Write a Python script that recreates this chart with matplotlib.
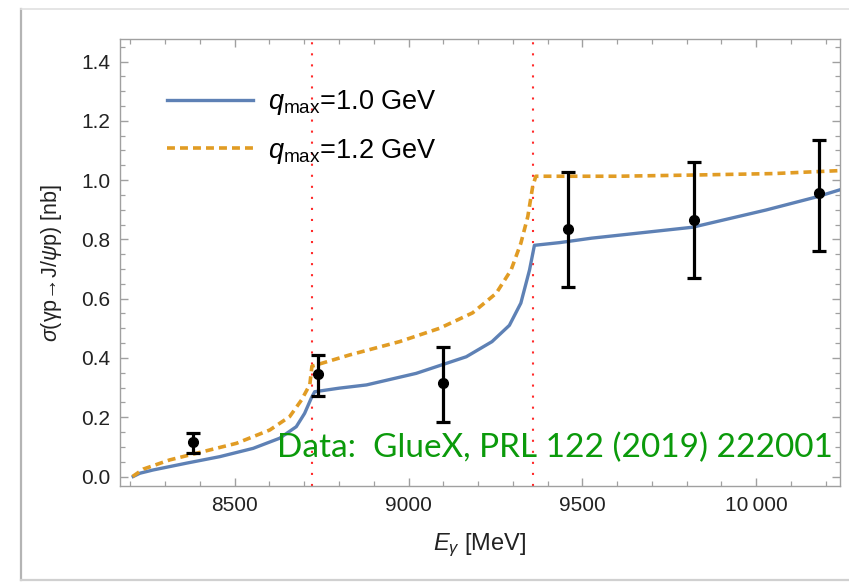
import numpy as np
import matplotlib as mpl
mpl.use('Agg')
import matplotlib.pyplot as plt
from matplotlib.ticker import MultipleLocator, FuncFormatter
from matplotlib.lines import Line2D

plt.rcParams['font.family'] = ['Liberation Sans', 'DejaVu Sans']
plt.rcParams['mathtext.fontset'] = 'custom'
plt.rcParams['mathtext.rm'] = 'Liberation Sans'
plt.rcParams['mathtext.it'] = 'Liberation Sans:italic'

# model curves
E_q10 = [8208, 8227, 8265, 8361, 8457, 8553, 8629, 8677, 8701, 8720, 8730, 8800, 8879,
         9022, 9166, 9240, 9290, 9323, 9348, 9362, 9434, 9526, 9817, 10028, 10176, 10240]
sig_q10 = [0.0, 0.011, 0.022, 0.045, 0.067, 0.095, 0.129, 0.168, 0.213, 0.264, 0.286, 0.298, 0.309,
           0.348, 0.404, 0.455, 0.51, 0.585, 0.697, 0.78, 0.789, 0.804, 0.841, 0.899, 0.944, 0.967]

E_q12 = [8206, 8237, 8313, 8409, 8505, 8601, 8658, 8692, 8716, 8722, 8830, 8974, 9089, 9184,
         9252, 9295, 9323, 9343, 9357, 9366, 9600, 9817, 10050, 10240]
sig_q12 = [0.0, 0.025, 0.056, 0.084, 0.112, 0.157, 0.202, 0.258, 0.31, 0.372, 0.41, 0.455, 0.50, 0.552,
           0.618, 0.697, 0.787, 0.877, 0.978, 1.013, 1.013, 1.017, 1.022, 1.032]

# GlueX data
E_data = [8380, 8740, 9100, 9460, 9820, 10180]
sig_data = [0.118, 0.346, 0.315, 0.836, 0.866, 0.955]
sig_lo = [0.081, 0.273, 0.185, 0.64, 0.67, 0.761]
sig_hi = [0.148, 0.41, 0.438, 1.028, 1.062, 1.135]

thresholds = [8721, 9358]

blue = '#5e81b5'
orange = '#e19c24'

fig = plt.figure(figsize=(8.49, 5.83), dpi=100)
ax = fig.add_axes([120/849, 1-486/583, 720/849, 447/583])

# slide-like frame
fig.add_artist(Line2D([21/849, 21/849], [1-580/583, 1-9/583], color='#b4b4b4', lw=1.6))
fig.add_artist(Line2D([21/849, 1], [1-9/583, 1-9/583], color='#e0e0e0', lw=1.2))
fig.add_artist(Line2D([21/849, 1], [1-580/583, 1-580/583], color='#d0d0d0', lw=1.6))

for t in thresholds:
    ax.axvline(t, color='#ff2a2a', lw=1.5, linestyle=(0, (1, 4.3)), zorder=1)

ax.plot(E_q10, sig_q10, color=blue, lw=2.4, label=r'$q_{\mathrm{max}}$=1.0 GeV', zorder=3)
ax.plot(E_q12, sig_q12, color=orange, lw=2.6, linestyle=(0, (2.2, 1.4)),
        label=r'$q_{\mathrm{max}}$=1.2 GeV', zorder=3)

yerr = [np.array(sig_data) - np.array(sig_lo), np.array(sig_hi) - np.array(sig_data)]
ax.errorbar(E_data, sig_data, yerr=yerr, fmt='o', color='black', ms=7, lw=2.3,
            capsize=5, capthick=2.3, zorder=4)

ax.set_xlim(8170, 10241)
ax.set_ylim(-0.032, 1.476)

ax.xaxis.set_major_locator(MultipleLocator(500))
ax.xaxis.set_minor_locator(MultipleLocator(100))
ax.yaxis.set_major_locator(MultipleLocator(0.2))
ax.yaxis.set_minor_locator(MultipleLocator(0.05))

def xfmt(v, pos):
    s = '%d' % v
    if v >= 10000:
        s = s[:-3] + '\u2009' + s[-3:]
    return s

ax.xaxis.set_major_formatter(FuncFormatter(xfmt))
ax.yaxis.set_major_formatter(FuncFormatter(lambda v, p: '%.1f' % v))

for s in ax.spines.values():
    s.set_color('#a0a0a0')
    s.set_linewidth(1.0)
ax.tick_params(which='both', direction='in', top=True, right=True, color='#a0a0a0',
               labelsize=15, labelcolor='#222222')
ax.tick_params(which='major', length=6, width=1.0, pad=7)
ax.tick_params(which='minor', length=3.5, width=0.9)
ax.tick_params(axis='x', labeltop=False)
ax.tick_params(axis='y', labelright=False)

ax.set_xlabel(r'$E_\gamma$ [MeV]', fontsize=17, color='#222222', labelpad=12)
ax.set_ylabel(r'$\sigma$(γp→J/$\psi$p) [nb]', fontsize=15.5, color='#222222', labelpad=12)

ax.legend(loc='upper left', bbox_to_anchor=(0.065, 0.89), frameon=False, fontsize=19.5,
          handlelength=3.2, handletextpad=0.55, labelspacing=0.72, borderpad=0,
          borderaxespad=0)

ax.text(0.218, 0.085, 'Data:  GlueX, PRL 122 (2019) 222001', transform=ax.transAxes,
        fontsize=24, color='#0b9a0b', family=['Lato', 'DejaVu Sans'], va='center', ha='left',
        zorder=5)

fig.savefig('out.png', dpi=100, facecolor='white')
